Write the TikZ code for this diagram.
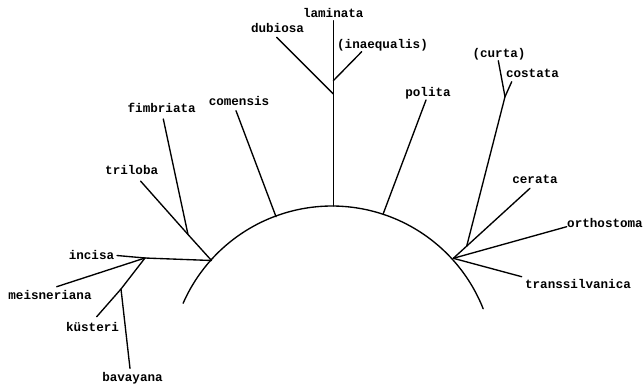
\documentclass[tikz,border=0pt]{standalone}
\usepackage{fontspec}
\newfontfamily\lblfont{Liberation Mono}
\begin{document}
\begin{tikzpicture}[x=1pt,y=-1pt,
  branch/.style={line width=1.35pt,line cap=round,line join=round},
  lbl/.style={font=\lblfont\bfseries\fontsize{12.6}{14}\selectfont,inner sep=0pt,anchor=base}]
\useasboundingbox (0,0) rectangle (644,386);
% arc
\draw[branch] plot[domain=-156.3:-21.6,samples=80,smooth] ({332+162.6*cos(\x)},{368.6+162.6*sin(\x)});
% junctions on arc and inner junctions
\coordinate (L) at (211.5,260.5);
\coordinate (Ci) at (145,258);
\coordinate (Kb) at (121,289);
\coordinate (Tf) at (188,234.5);
\coordinate (Cm) at (276,216.7);
\coordinate (Tp) at (333.3,206);
\coordinate (Db) at (333.3,94);
\coordinate (In) at (333.3,80.7);
\coordinate (Po) at (383.3,213.5);
\coordinate (R) at (453.3,258.3);
\coordinate (Rc) at (466.7,246.1);
\coordinate (Cj) at (505,96.7);
% tips
\coordinate (tInc) at (117,255.5);
\coordinate (tMei) at (56.7,286.7);
\coordinate (tKus) at (96.7,316.7);
\coordinate (tBav) at (130,368.5);
\coordinate (tTri) at (140.5,181);
\coordinate (tFim) at (163.3,119);
\coordinate (tCom) at (236,110.7);
\coordinate (tLam) at (333.3,20.7);
\coordinate (tDub) at (276.7,37.3);
\coordinate (tIna) at (361.7,51.7);
\coordinate (tPol) at (426,100);
\coordinate (tCur) at (498.3,60.7);
\coordinate (tCos) at (511.7,81.7);
\coordinate (tCer) at (530,188.3);
\coordinate (tOrt) at (566.7,226.7);
\coordinate (tTra) at (521.7,276.7);
% labels
\node[lbl] (incisa) at (91.5,259) {incisa};
\node[lbl] (meisneriana) at (50,299.5) {meisneriana};
\node[lbl] (kusteri) at (92.5,331) {küsteri};
\node[lbl] (bavayana) at (132.5,381.5) {bavayana};
\node[lbl] (triloba) at (131.7,174) {triloba};
\node[lbl] (fimbriata) at (161.7,112.5) {fimbriata};
\node[lbl] (comensis) at (239,105) {comensis};
\node[lbl] (laminata) at (333.3,17.5) {laminata};
\node[lbl] (dubiosa) at (277.5,32.5) {dubiosa};
\node[lbl] (inaequalis) at (382.5,48.5) {(inaequalis)};
\node[lbl] (polita) at (428,96.5) {polita};
\node[lbl] (curta) at (499,57) {(curta)};
\node[lbl] (costata) at (532.5,77.5) {costata};
\node[lbl] (cerata) at (535,183.5) {cerata};
\node[lbl] (orthostoma) at (605,227.5) {orthostoma};
\node[lbl] (transsilvanica) at (578,288.5) {transsilvanica};
% branches
\draw[branch] (L) -- (Ci) -- (tInc);
\draw[branch] (Ci) -- (tMei);
\draw[branch] (Ci) -- (Kb) -- (tKus);
\draw[branch] (Kb) -- (tBav);
\draw[branch] (L) -- (Tf) -- (tTri);
\draw[branch] (Tf) -- (tFim);
\draw[branch] (Cm) -- (tCom);
\draw[branch] (Tp) -- (Db) -- (In) -- (tLam);
\draw[branch] (Db) -- (tDub);
\draw[branch] (In) -- (tIna);
\draw[branch] (Po) -- (tPol);
\draw[branch] (R) -- (Rc) -- (tCer);
\draw[branch] (Rc) -- (Cj) -- (tCur);
\draw[branch] (Cj) -- (tCos);
\draw[branch] (R) -- (tOrt);
\draw[branch] (R) -- (tTra);
\end{tikzpicture}
\end{document}
